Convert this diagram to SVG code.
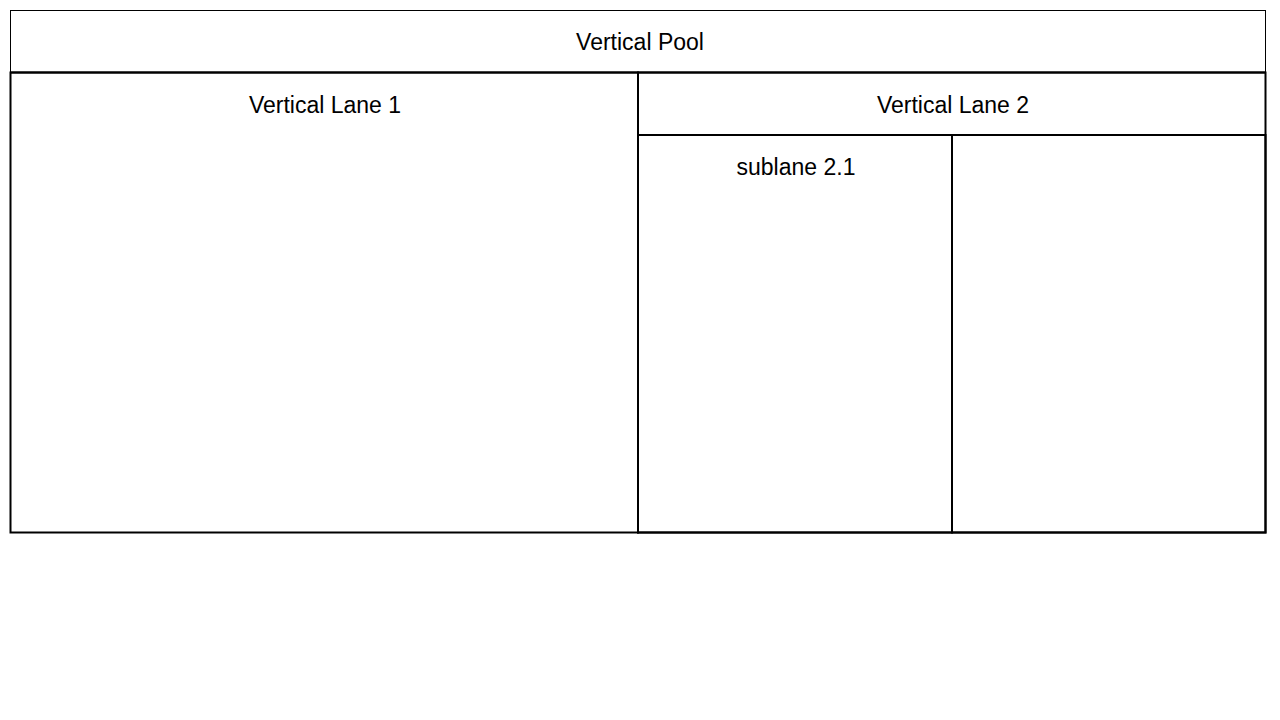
<svg xmlns="http://www.w3.org/2000/svg" width="1280" height="720" viewBox="0 0 1280 720">
<style>
.box{fill:#fff;stroke:#000;stroke-width:1}
.sep{fill:none;stroke:#000;stroke-width:2}
.lbl{font-family:"Liberation Sans",Arial,sans-serif;font-size:23px;fill:#000;text-anchor:middle}
</style>
<rect width="1280" height="720" fill="#fff"/>
<g id="pool">
<rect class="box" x="10.5" y="10.5" width="1255" height="522"/>
<line class="sep" x1="10" y1="72.5" x2="1266" y2="72.5"/>
<text class="lbl" x="640" y="50">Vertical Pool</text>
</g>
<g id="lane1">
<rect class="sep" x="10.5" y="72.5" width="627.5" height="460"/>
<text class="lbl" x="325" y="113">Vertical Lane 1</text>
</g>
<g id="lane2">
<rect class="sep" x="638" y="72.5" width="627.5" height="460"/>
<line class="sep" x1="638" y1="135" x2="1266" y2="135"/>
<text class="lbl" x="953" y="113">Vertical Lane 2</text>
</g>
<g id="sublane21">
<rect class="sep" x="638" y="135" width="314" height="397.5"/>
<text class="lbl" x="796" y="175">sublane 2.1</text>
</g>
<g id="sublane22">
<rect class="sep" x="952" y="135" width="313.5" height="397.5"/>
</g>
<g id="connectors"></g>
</svg>
